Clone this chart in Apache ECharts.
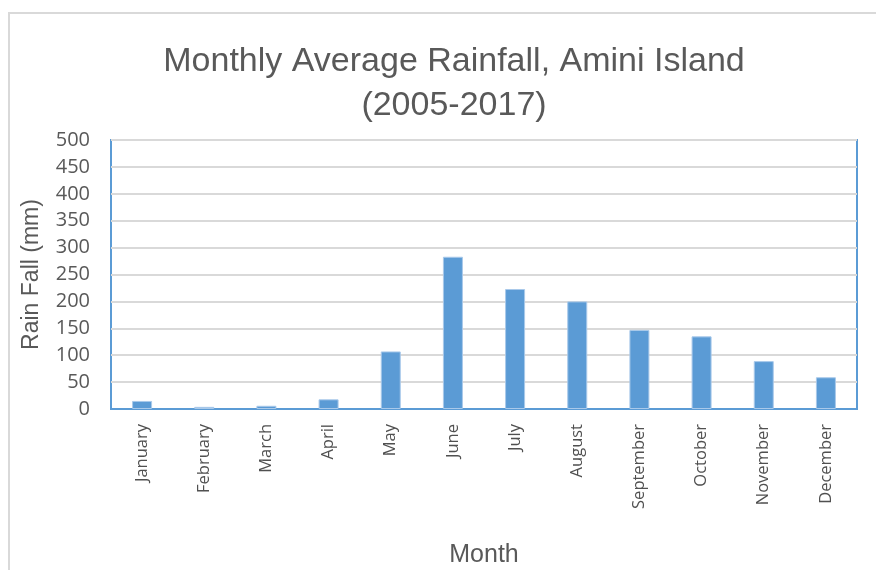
<!DOCTYPE html>
<html>
<head>
<meta charset="utf-8">
<script src="https://cdn.jsdelivr.net/npm/echarts@6/dist/echarts.min.js"></script>
<style>
  html, body { margin: 0; padding: 0; background: #ffffff; }
  #chart { width: 876px; height: 570px; }
</style>
</head>
<body>
<div id="chart"></div>
<script>
// Monthly average rainfall (mm), 2005-2017
const months = ['January', 'February', 'March', 'April', 'May', 'June',
  'July', 'August', 'September', 'October', 'November', 'December'];
const rainfall = [15, 4, 6, 18, 107, 283, 223, 200, 147, 135, 89, 59];
const yTicks = { min: 0, max: 500, step: 50 };

const chart = echarts.init(document.getElementById('chart'), null, { renderer: 'canvas' });

chart.setOption({
  animation: false,
  backgroundColor: '#ffffff',
  graphic: [{
    type: 'rect',
    silent: true,
    shape: { x: 9, y: 13, width: 900, height: 600 },
    style: { fill: 'none', stroke: '#d9d9d9', lineWidth: 2 }
  }],
  title: {
    text: 'Monthly Average Rainfall, Amini Island\n(2005-2017)',
    left: 449,
    top: 35,
    textAlign: 'center',
    textStyle: {
      fontFamily: 'Liberation Sans',
      fontSize: 34,
      fontWeight: 'normal',
      color: '#595959',
      lineHeight: 44
    }
  },
  grid: {
    left: 111, top: 140, right: 19, bottom: 161,
    show: true,
    borderColor: '#5b9bd5',
    borderWidth: 2,
    containLabel: false
  },
  xAxis: {
    type: 'category',
    data: months,
    name: 'Month',
    nameLocation: 'middle',
    nameGap: 134,
    nameTextStyle: { fontFamily: 'Liberation Sans', fontSize: 25, color: '#595959' },
    axisLine: { show: true, lineStyle: { color: '#5b9bd5', width: 2 } },
    axisTick: { show: false },
    axisLabel: {
      rotate: 90,
      margin: 15,
      interval: 0,
      fontFamily: 'Open Sans',
      fontSize: 16.5,
      color: '#505050'
    }
  },
  yAxis: {
    type: 'value',
    min: yTicks.min,
    max: yTicks.max,
    interval: yTicks.step,
    name: 'Rain Fall (mm)',
    nameLocation: 'middle',
    nameGap: 68,
    nameTextStyle: { fontFamily: 'Liberation Sans', fontSize: 23, color: '#595959' },
    axisLine: { show: false },
    axisTick: { show: false },
    axisLabel: {
      margin: 21,
      fontFamily: 'Open Sans',
      fontSize: 20,
      color: '#595959'
    },
    splitLine: { lineStyle: { color: '#d9d9d9', width: 2 } }
  },
  series: [{
    type: 'bar',
    data: rainfall,
    barWidth: 20,
    itemStyle: { color: '#5b9bd5', borderColor: '#a9c9ea', borderWidth: 1 }
  }]
});
</script>
</body>
</html>
